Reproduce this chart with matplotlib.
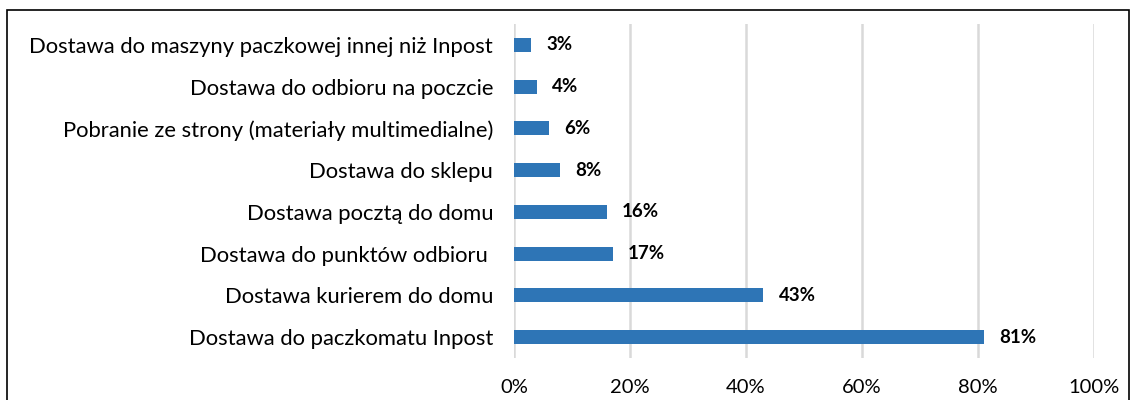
import matplotlib.pyplot as plt
from matplotlib.patches import Rectangle
from matplotlib.ticker import PercentFormatter

categories = [
    "Dostawa do maszyny paczkowej innej niż Inpost",
    "Dostawa do odbioru na poczcie",
    "Pobranie ze strony (materiały multimedialne)",
    "Dostawa do sklepu",
    "Dostawa pocztą do domu",
    "Dostawa do punktów odbioru ",
    "Dostawa kurierem do domu",
    "Dostawa do paczkomatu Inpost",
]
values = [3, 4, 6, 8, 16, 17, 43, 81]
ticks = [0, 20, 40, 60, 80, 100]

plt.rcParams['font.family'] = ['Lato', 'DejaVu Sans']

fig = plt.figure(figsize=(11.31, 4.0), dpi=100)
ax = fig.add_axes([514 / 1131, 1 - 358 / 400, 580 / 1131, 334 / 400])

pos = list(range(len(categories)))[::-1]
ax.barh(pos, values, height=0.34, color="#2E75B6", zorder=3)
for p, v in zip(pos, values):
    ax.text(v + 2.6, p, f"{v}%", va="center", ha="left", fontsize=13.5,
            fontweight="bold", color="black")

ax.set_yticks(pos)
ax.set_yticklabels(categories, fontsize=15.8)
ax.set_ylim(-0.5, len(categories) - 0.5)
ax.set_xlim(0, 100)
ax.set_xticks(ticks)
ax.xaxis.set_major_formatter(PercentFormatter(decimals=0))
ax.tick_params(axis="x", labelsize=14.5, length=0, pad=15)
ax.tick_params(axis="y", length=0, pad=15)
ax.grid(axis="x", color="#d9d9d9", linewidth=1.8, zorder=0)
for s in ax.spines.values():
    s.set_visible(False)

fig.patches.append(Rectangle((7 / 1131, -0.1), 1122 / 1131, 1.1 - 10 / 400,
                             transform=fig.transFigure, fill=False,
                             edgecolor="black", linewidth=1.2))

fig.savefig("out.png", dpi=100)
